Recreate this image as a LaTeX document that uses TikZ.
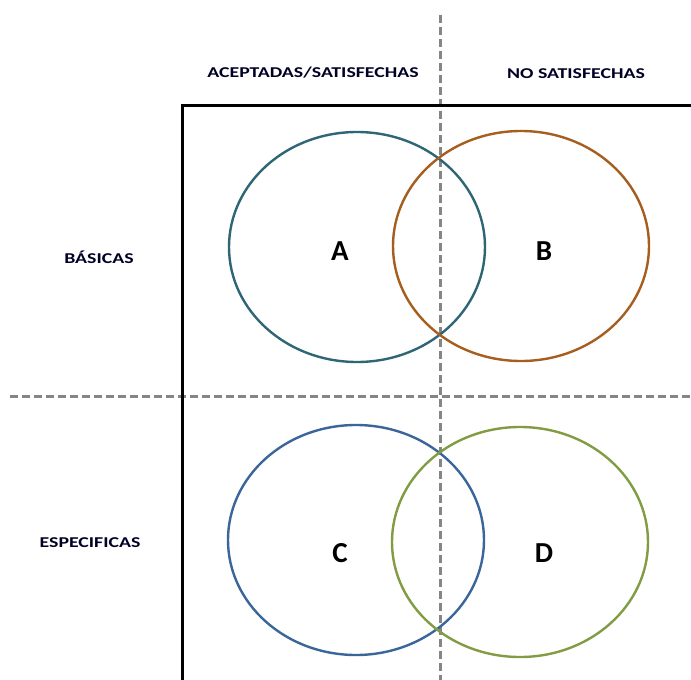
\documentclass[tikz,border=0pt]{standalone}
\usepackage{fontspec}
\usetikzlibrary{shapes.geometric}
\setmainfont{Carlito}
\definecolor{cA}{HTML}{2F6675}
\definecolor{cB}{HTML}{A65E1F}
\definecolor{cC}{HTML}{3B6699}
\definecolor{cD}{HTML}{819C43}
\definecolor{dgray}{HTML}{858585}
\begin{document}
\begin{tikzpicture}[x=1pt,y=-1pt,
  hdr/.style={font=\fontsize{15}{17}\selectfont\bfseries, text=black!85!blue, xscale=1.32},
  big/.style={font=\fontsize{29}{32}\selectfont\bfseries},
  venn/.style={line width=2.4pt, ellipse, minimum width=256pt, minimum height=230pt, inner sep=0pt, outer sep=0pt},
  guide/.style={draw=dgray, line width=3pt, dash pattern=on 8pt off 4pt}]
\useasboundingbox (0,0) rectangle (691,680);
\fill[white] (0,0) rectangle (691,680);
% guides
\coordinate (vtop) at (440,15);
\coordinate (vbot) at (440,680);
\coordinate (hl) at (10,396);
\coordinate (hr) at (691,396);
\draw[guide] (vtop) -- (vbot);
\draw[guide] (hl) -- (hr);
% frame
\coordinate (f1) at (182,680);
\coordinate (f2) at (182,105);
\coordinate (f3) at (691,105);
\draw[line width=3pt, line join=miter] (f1) -- (f2) -- (f3);
% circles
\node[venn, draw=cA] (cirA) at (357,247) {};
\node[venn, draw=cB] (cirB) at (521,246) {};
\node[venn, draw=cC] (cirC) at (356,540) {};
\node[venn, draw=cD] (cirD) at (520,542) {};
% letters
\node[big] (lA) at (340,251) {A};
\node[big] (lB) at (544,251) {B};
\node[big] (lC) at (340,553) {C};
\node[big] (lD) at (544,553) {D};
% headers
\node[hdr] (h1) at (313,73) {ACEPTADAS/SATISFECHAS};
\node[hdr] (h2) at (576,74) {NO SATISFECHAS};
\node[hdr] (r1) at (99,257) {BÁSICAS};
\node[hdr] (r2) at (90,543) {ESPECIFICAS};
\end{tikzpicture}
\end{document}
